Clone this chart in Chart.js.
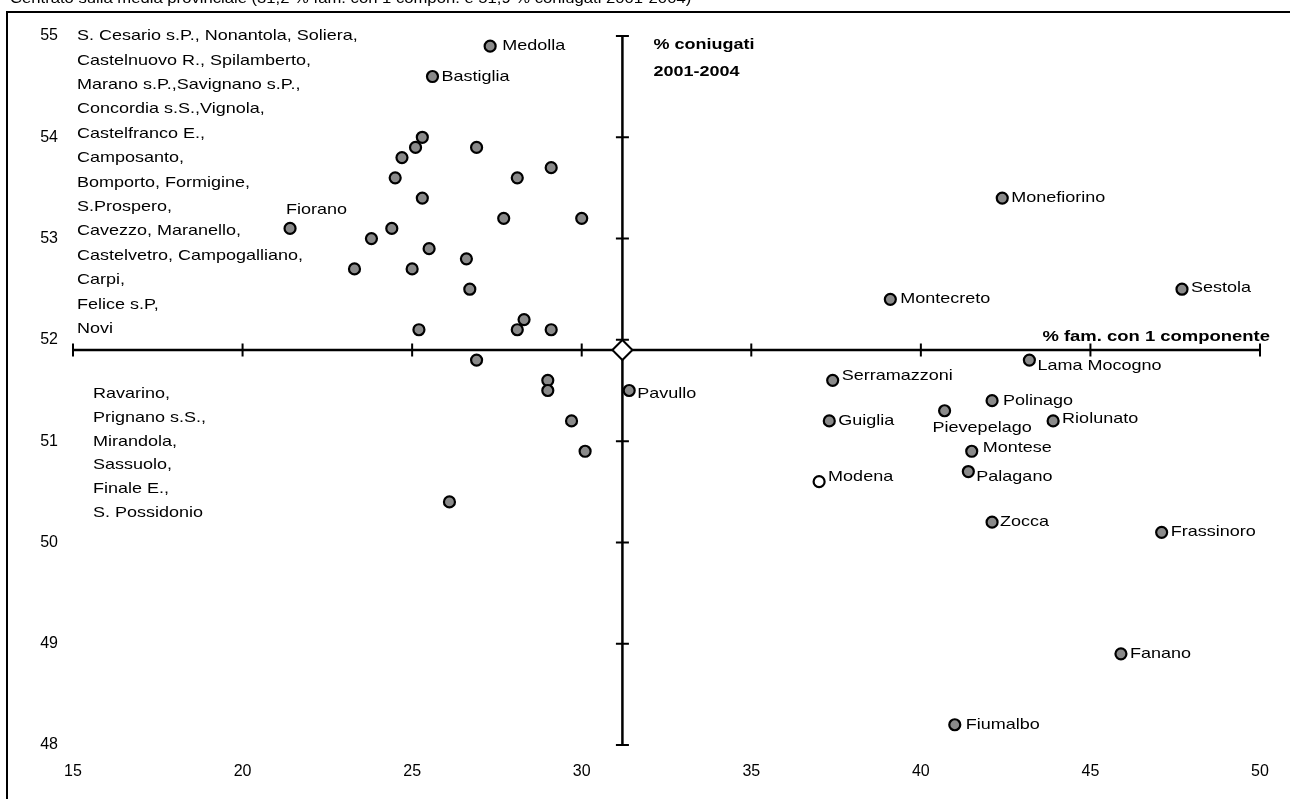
<!DOCTYPE html>
<html lang="it">
<head>
<meta charset="utf-8">
<title>Centrato sulla media provinciale</title>
<script src="https://cdn.jsdelivr.net/npm/chart.js@4.4.1/dist/chart.umd.min.js"></script>
<style>
  html, body { margin: 0; padding: 0; background: #fff; }
  canvas { display: block; }
</style>
</head>
<body>
<canvas id="chart" width="1290" height="799"></canvas>
<script>
// % famiglie con 1 componente vs % coniugati 2001-2004, comuni della provincia di Modena
const TITOLO = 'Centrato sulla media provinciale (31,2 % fam. con 1 compon. e 51,9 % coniugati 2001-2004)';

const X_MIN = 15, X_MAX = 50, X_STEP = 5;
const Y_MIN = 48, Y_MAX = 55, Y_STEP = 1;

// media provinciale = incrocio degli assi
const mediaFam = 31.2;
const mediaConiug = 51.9;

// comuni con etichetta sul grafico
const nomi = ['Medolla','Bastiglia','Fiorano','Monefiorino','Montecreto','Sestola','Lama Mocogno','Pavullo',
  'Serramazzoni','Guiglia','Pievepelago','Polinago','Riolunato','Montese','Palagano','Modena','Zocca',
  'Frassinoro','Fanano','Fiumalbo'];
const famNomi =    [27.3, 25.6, 21.4, 42.4, 39.1, 47.7, 43.2, 31.4, 37.4, 37.3, 40.7, 42.1, 43.9, 41.5, 41.4, 37.0, 42.1, 47.1, 45.9, 41.0];
const coniugNomi = [54.9, 54.6, 53.1, 53.4, 52.4, 52.5, 51.8, 51.5, 51.6, 51.2, 51.3, 51.4, 51.2, 50.9, 50.7, 50.6, 50.2, 50.1, 48.9, 48.2];

// comuni elencati a sinistra (punti senza etichetta)
const famAltri =    [25.3, 25.1, 24.7, 24.5, 26.9, 29.1, 28.1, 25.3, 27.7, 30.0, 24.4, 23.8, 25.5, 23.3, 25.0, 26.6, 26.7, 28.3, 28.1, 29.1, 25.2,
                     26.9, 29.0, 29.0, 29.7, 30.1, 26.1];
const coniugAltri = [54.0, 53.9, 53.8, 53.6, 53.9, 53.7, 53.6, 53.4, 53.2, 53.2, 53.1, 53.0, 52.9, 52.7, 52.7, 52.8, 52.5, 52.2, 52.1, 52.1, 52.1,
                     51.8, 51.6, 51.5, 51.2, 50.9, 50.4];

const elencoSopra = [
  'S. Cesario s.P., Nonantola, Soliera,',
  'Castelnuovo R., Spilamberto,',
  'Marano s.P.,Savignano s.P.,',
  'Concordia s.S.,Vignola,',
  'Castelfranco E.,',
  'Camposanto,',
  'Bomporto, Formigine,',
  'S.Prospero,',
  'Cavezzo, Maranello,',
  'Castelvetro, Campogalliano,',
  'Carpi,',
  'Felice s.P,',
  'Novi'
];
const elencoSotto = ['Ravarino,', 'Prignano s.S.,', 'Mirandola,', 'Sassuolo,', 'Finale E.,', 'S. Possidonio'];

const titoloY = ['% coniugati', '2001-2004'];
const titoloX = '% fam. con 1 componente';

const FONT = '"Liberation Sans", Arial, Helvetica, sans-serif';
const STRETCH = 1.2;   // il grafico originale ha il testo allargato in orizzontale

// spostamento etichette rispetto al punto (px)
const posEtichette = {
  'Medolla': [12, 0], 'Bastiglia': [9, 0], 'Fiorano': [-4, -19], 'Monefiorino': [9, 0],
  'Montecreto': [10, 0], 'Sestola': [9, -1], 'Lama Mocogno': [8, 6], 'Pavullo': [8, 3],
  'Serramazzoni': [9, -5], 'Guiglia': [9, 0], 'Pievepelago': [-12, 17], 'Polinago': [11, 0],
  'Riolunato': [9, -2], 'Montese': [11, -3], 'Palagano': [8, 5], 'Modena': [9, -5],
  'Zocca': [8, 0], 'Frassinoro': [9, 0], 'Fanano': [9, 0], 'Fiumalbo': [11, 0]
};

function testo(ctx, str, x, y, opt){
  opt = opt || {};
  ctx.save();
  ctx.font = (opt.bold ? 'bold ' : '') + (opt.size || 15) + 'px ' + FONT;
  ctx.fillStyle = '#000';
  ctx.textAlign = opt.align || 'left';
  ctx.textBaseline = opt.baseline || 'middle';
  ctx.translate(x, y);
  ctx.scale(opt.stretch || STRETCH, 1);
  ctx.fillText(str, 0, 0);
  ctx.restore();
}

const assiCentrati = {
  id: 'assiCentrati',
  beforeDatasetsDraw(chart){
    const ctx = chart.ctx;
    const xs = chart.scales.x, ys = chart.scales.y;
    const x0 = xs.getPixelForValue(mediaFam);
    const y0 = ys.getPixelForValue(mediaConiug);
    ctx.save();
    ctx.strokeStyle = '#000';
    ctx.lineWidth = 2.5;
    ctx.lineCap = 'butt';
    ctx.beginPath();
    ctx.moveTo(xs.getPixelForValue(X_MIN), y0);
    ctx.lineTo(xs.getPixelForValue(X_MAX), y0);
    ctx.moveTo(x0, ys.getPixelForValue(Y_MIN));
    ctx.lineTo(x0, ys.getPixelForValue(Y_MAX));
    ctx.stroke();
    ctx.lineWidth = 2;
    ctx.beginPath();
    xs.ticks.forEach(t => {
      const px = xs.getPixelForValue(t.value);
      ctx.moveTo(px, y0 - 6.5);
      ctx.lineTo(px, y0 + 6.5);
    });
    ys.ticks.forEach(t => {
      const py = ys.getPixelForValue(t.value);
      ctx.moveTo(x0 - 6.5, py);
      ctx.lineTo(x0 + 6.5, py);
    });
    ctx.stroke();
    ctx.restore();
  },
  afterDatasetsDraw(chart){
    const ctx = chart.ctx;
    const xs = chart.scales.x, ys = chart.scales.y;
    const area = chart.chartArea;

    // etichette dei comuni
    const meta = chart.getDatasetMeta(2);
    meta.data.forEach((pt, i) => {
      const off = posEtichette[nomi[i]] || [9, 0];
      testo(ctx, nomi[i], pt.x + off[0], pt.y + off[1]);
    });

    // elenchi a sinistra
    const yTop = ys.getPixelForValue(Y_MAX);
    elencoSopra.forEach((r, i) => testo(ctx, r, area.left + 4, yTop + i * 24.4));
    const yMedia = ys.getPixelForValue(mediaConiug);
    elencoSotto.forEach((r, i) => testo(ctx, r, area.left + 20, yMedia + 44 + i * 23.7));

    // titoli degli assi
    const x0 = xs.getPixelForValue(mediaFam);
    titoloY.forEach((r, i) => testo(ctx, r, x0 + 31, yTop + 9 + i * 27, {bold: true}));
    testo(ctx, titoloX, xs.getPixelForValue(X_MAX) + 10, yMedia - 13, {bold: true, align: 'right', stretch: 1.23});

    // titolo (tagliato in alto) e cornice
    testo(ctx, TITOLO, 10, 2.5, {baseline: 'alphabetic', stretch: 1.11});
    ctx.save();
    ctx.strokeStyle = '#000';
    ctx.lineWidth = 2;
    ctx.beginPath();
    ctx.moveTo(7, chart.height + 5);
    ctx.lineTo(7, 12);
    ctx.lineTo(chart.width + 5, 12);
    ctx.stroke();
    ctx.restore();
  }
};

const ctx = document.getElementById('chart').getContext('2d');
const chart = new Chart(ctx, {
  type: 'scatter',
  data: {
    datasets: [
      {
        label: 'media provinciale',
        data: [{x: mediaFam, y: mediaConiug}],
        pointStyle: 'rectRot',
        pointRadius: 10,
        backgroundColor: '#ffffff',
        borderColor: '#000000',
        borderWidth: 2
      },
      {
        label: 'comuni elencati',
        data: famAltri.map((v, i) => ({x: v, y: coniugAltri[i]})),
        pointRadius: 5.5,
        backgroundColor: '#8a8a8a',
        borderColor: '#000000',
        borderWidth: 2.2
      },
      {
        label: 'comuni',
        data: famNomi.map((v, i) => ({x: v, y: coniugNomi[i]})),
        pointRadius: 5.5,
        backgroundColor: c => nomi[c.dataIndex] === 'Modena' ? '#ffffff' : '#8a8a8a',
        borderColor: '#000000',
        borderWidth: 2.2
      }
    ]
  },
  options: {
    responsive: false,
    animation: false,
    devicePixelRatio: 1,
    layout: { padding: { top: 36, right: 30, bottom: 0, left: 0 } },
    plugins: {
      legend: { display: false },
      tooltip: { enabled: false },
      title: { display: false }
    },
    scales: {
      x: {
        type: 'linear',
        min: X_MIN, max: X_MAX,
        grid: { display: false, drawTicks: false },
        border: { display: false },
        ticks: { stepSize: X_STEP, color: '#000', padding: 17, font: { size: 16, family: FONT } },
        afterFit: s => { s.height = 54; }
      },
      y: {
        type: 'linear',
        min: Y_MIN, max: Y_MAX,
        grid: { display: false, drawTicks: false },
        border: { display: false },
        ticks: { stepSize: Y_STEP, color: '#000', padding: 15, font: { size: 16, family: FONT } },
        afterFit: s => { s.width = 73; }
      }
    }
  },
  plugins: [assiCentrati]
});
</script>
</body>
</html>
